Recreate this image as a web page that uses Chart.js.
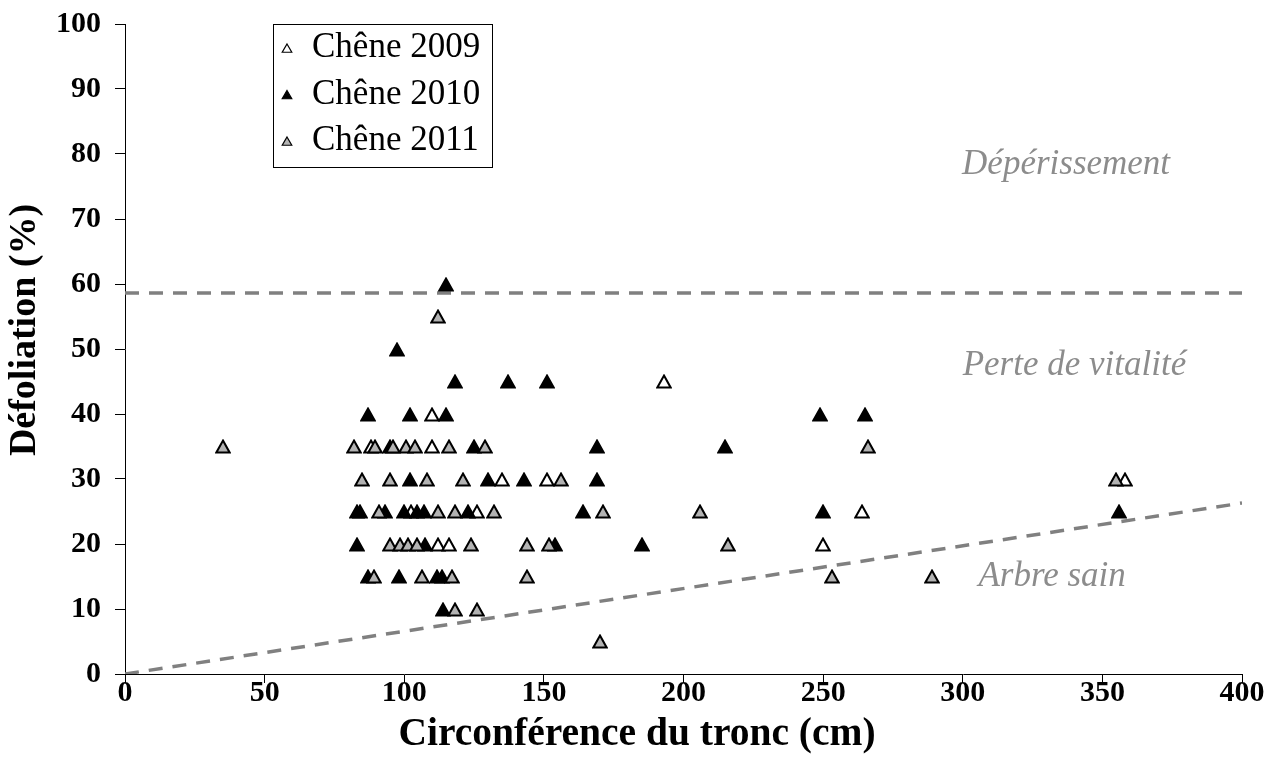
<!DOCTYPE html>
<html>
<head>
<meta charset="utf-8">
<script src="https://cdn.jsdelivr.net/npm/chart.js@4/dist/chart.umd.min.js"></script>
<style>
  html, body { margin: 0; padding: 0; background: #fff; }
  #wrap { width: 1269px; height: 769px; }
</style>
</head>
<body>
<div id="wrap"><canvas id="c" width="1269" height="769"></canvas></div>
<script>
// Circumference (cm) and defoliation (%) of oaks, per survey year
const circ2009 = [193, 110, 110, 88, 135, 151, 358, 102.5, 126, 264, 112, 116, 250];
const defol2009 = [45, 40, 35, 35, 30, 30, 30, 25, 25, 25, 20, 20, 20];

const circ2010 = [115, 97.5, 118, 137, 151, 87, 102, 115, 249, 265, 95, 125, 169, 215,
  102, 130, 143, 169, 83, 84, 93, 100, 104.5, 107, 123, 164, 250, 356,
  83, 107.5, 154, 185, 87, 98, 111.7, 113.5, 114];
const defol2010 = [60, 50, 45, 45, 45, 40, 40, 40, 40, 40, 35, 35, 35, 35,
  30, 30, 30, 30, 25, 25, 25, 25, 25, 25, 25, 25, 25, 25,
  20, 20, 20, 20, 15, 15, 15, 15, 10];

const circ2011 = [112, 35, 82, 89.5, 96, 100.5, 104, 116, 129, 266,
  85, 95, 108, 121, 156, 355,
  91, 112, 118, 132, 171, 206,
  95, 98.5, 101.5, 104.5, 124, 144, 152, 216,
  89, 106.5, 117, 144, 253, 289,
  118, 126, 170];
const defol2011 = [55, 35, 35, 35, 35, 35, 35, 35, 35, 35,
  30, 30, 30, 30, 30, 30,
  25, 25, 25, 25, 25, 25,
  20, 20, 20, 20, 20, 20, 20, 20,
  15, 15, 15, 15, 15, 15,
  10, 10, 5];

// Threshold lines between health classes
const declineLineX = [0, 400];
const declineLineY = [58.6, 58.6];
const healthyLineX = [0, 400];
const healthyLineY = [0, 26.3];

const seriesNames = ['Chêne 2009', 'Chêne 2010', 'Chêne 2011'];
const zoneNames = ['Dépérissement', 'Perte de vitalité', 'Arbre sain'];
const zoneAnchorX = [337, 340, 332];
const zoneAnchorY = [78.3, 47.4, 14.9];

const xTitle = 'Circonférence du tronc (cm)';
const yTitle = 'Défoliation (%)';

const xTicks = [0, 50, 100, 150, 200, 250, 300, 350, 400];
const yTicks = [0, 10, 20, 30, 40, 50, 60, 70, 80, 90, 100];

const zip = (xs, ys) => xs.map((x, i) => ({ x: x, y: ys[i] }));

const FONT = '"Liberation Serif", "Times New Roman", serif';
const GRAY_FILL = '#b3b3b3';
const LINE_GRAY = '#808080';

// Triangle marker centred in its own box, so the point value sits mid-height
function triangleMarker(fill) {
  const c = document.createElement('canvas');
  c.width = 16; c.height = 15;
  const g = c.getContext('2d');
  g.beginPath();
  g.moveTo(8, 1.6);
  g.lineTo(14.6, 13.4);
  g.lineTo(1.4, 13.4);
  g.closePath();
  g.fillStyle = fill;
  g.fill();
  g.lineWidth = 2;
  g.lineJoin = 'miter';
  g.strokeStyle = '#000';
  g.stroke();
  return c;
}

// Keep the marker bitmaps crisp when placed at fractional pixel positions
const crispMarkers = {
  id: 'crispMarkers',
  beforeDatasetsDraw(chart) { chart.ctx.imageSmoothingEnabled = false; },
  afterDatasetsDraw(chart) { chart.ctx.imageSmoothingEnabled = true; }
};

// Framed legend in the upper-left of the plot
const legendBox = {
  id: 'legendBox',
  afterDatasetsDraw(chart) {
    const ctx = chart.ctx;
    const left = 273, top = 24, w = 219, h = 143;
    ctx.save();
    ctx.fillStyle = '#fff';
    ctx.fillRect(left, top, w, h);
    ctx.strokeStyle = '#000';
    ctx.lineWidth = 1;
    ctx.strokeRect(left + 0.5, top + 0.5, w, h);
    ctx.font = '35px ' + FONT;
    ctx.textBaseline = 'middle';
    [0, 1, 2].forEach(i => {
      const ds = chart.data.datasets[i];
      const y = top + 24 + i * 46.5;
      const r = 5.5, cx = 287, cy = y + 1.5;
      ctx.fillStyle = ds.backgroundColor;
      ctx.strokeStyle = '#000';
      ctx.lineWidth = 1.2;
      ctx.beginPath();
      ctx.moveTo(cx, cy - r);
      ctx.lineTo(cx + r * 0.866, cy + r / 2);
      ctx.lineTo(cx - r * 0.866, cy + r / 2);
      ctx.closePath();
      ctx.fill();
      ctx.stroke();
      ctx.fillStyle = '#000';
      ctx.textAlign = 'left';
      ctx.fillText(ds.label, 312, y);
    });
    ctx.restore();
  }
};

// Zone names and axis titles
const annotations = {
  id: 'annotations',
  afterDatasetsDraw(chart) {
    const ctx = chart.ctx;
    const xs = chart.scales.x, ys = chart.scales.y;
    ctx.save();
    ctx.font = 'italic 35px ' + FONT;
    ctx.fillStyle = '#8c8c8c';
    ctx.textAlign = 'center';
    ctx.textBaseline = 'middle';
    zoneNames.forEach((t, i) => {
      ctx.fillText(t, xs.getPixelForValue(zoneAnchorX[i]), ys.getPixelForValue(zoneAnchorY[i]));
    });
    ctx.fillStyle = '#000';
    ctx.font = 'bold 39.5px ' + FONT;
    ctx.fillText(xTitle, 637, 735);
    ctx.translate(25, 330);
    ctx.rotate(-Math.PI / 2);
    ctx.font = 'bold 38px ' + FONT;
    ctx.fillText(yTitle, 0, 0);
    ctx.restore();
  }
};

const fills = ['#ffffff', '#000000', GRAY_FILL];
const circ = [circ2009, circ2010, circ2011];
const defol = [defol2009, defol2010, defol2011];

const pointSets = seriesNames.map((name, i) => ({
  label: name,
  data: zip(circ[i], defol[i]),
  order: 3 - i,
  pointStyle: triangleMarker(fills[i]),
  backgroundColor: fills[i],
  borderColor: '#000'
}));

new Chart(document.getElementById('c'), {
  type: 'scatter',
  data: {
    datasets: pointSets.concat([
      { type: 'line', label: 'seuil dépérissement', data: zip(declineLineX, declineLineY), order: 10,
        borderColor: LINE_GRAY, borderWidth: 3.5, borderDash: [14, 10], pointRadius: 0, fill: false },
      { type: 'line', label: 'seuil arbre sain', data: zip(healthyLineX, healthyLineY), order: 10,
        borderColor: LINE_GRAY, borderWidth: 3.5, borderDash: [14, 10], pointRadius: 0, fill: false }
    ])
  },
  options: {
    responsive: false,
    animation: false,
    layout: { padding: { top: 24, right: 27, left: 0, bottom: 0 } },
    plugins: { legend: { display: false }, tooltip: { enabled: false } },
    scales: {
      x: {
        type: 'linear', min: 0, max: 400,
        afterBuildTicks: s => { s.ticks = xTicks.map(v => ({ value: v })); },
        afterFit: s => { s.height = 95; s.paddingLeft = 0; s.paddingRight = 0; },
        border: { color: '#000', width: 1 },
        grid: { drawOnChartArea: false, drawTicks: true, tickLength: 9, color: '#000' },
        ticks: { color: '#000', padding: -8, font: { family: FONT, size: 30, weight: 'bold' } }
      },
      y: {
        type: 'linear', min: 0, max: 100,
        afterBuildTicks: s => { s.ticks = yTicks.map(v => ({ value: v })); },
        afterFit: s => { s.width = 125; s.paddingTop = 0; s.paddingBottom = 0; },
        border: { color: '#000', width: 1 },
        grid: { drawOnChartArea: false, drawTicks: true, tickLength: 10, color: '#000' },
        ticks: { color: '#000', padding: 14, font: { family: FONT, size: 30, weight: 'bold' } }
      }
    }
  },
  plugins: [crispMarkers, annotations, legendBox]
});
</script>
</body>
</html>
